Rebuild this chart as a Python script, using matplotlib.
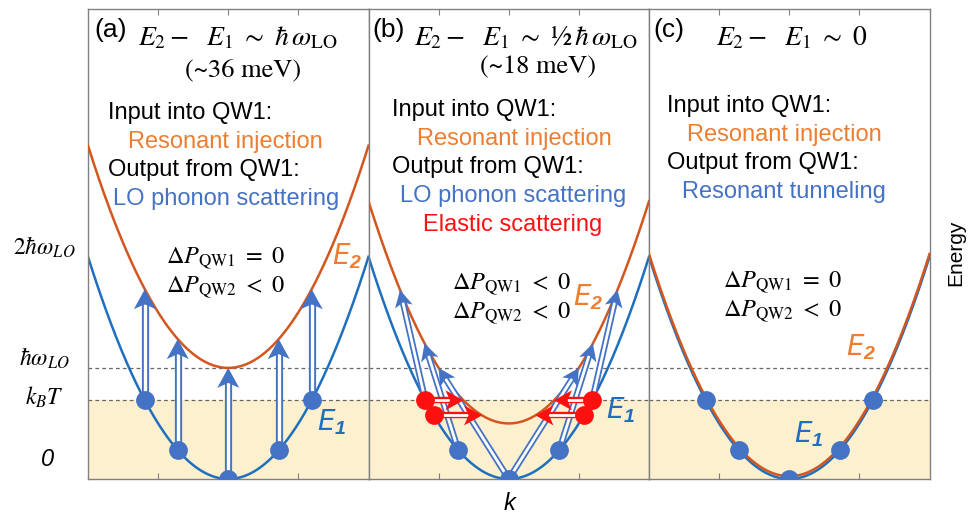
import numpy as np
import matplotlib
matplotlib.use('Agg')
import matplotlib.pyplot as plt

plt.rcParams['mathtext.fontset'] = 'stix'
plt.rcParams['mathtext.rm'] = 'Liberation Sans:bold:italic'
plt.rcParams['font.family'] = ['Liberation Sans', 'DejaVu Sans']

# energies in units of hbar*omega_LO, E1 = k^2/2
k_lim = (-2.0, 2.0)
e_top = 4.23
e_lo = 1.0
e_kt = 0.71
e2_min = [1.0, 0.5, 0.0]            # E2 band bottom in panels a, b, c
dot_k = [-1.19, -0.72, 0.0, 0.72, 1.19]
red_k = [-1.19, -1.07, 1.07, 1.19]  # elastic scattering, panel b
lo_src_k = [-1.19, -0.72, 0.0, 0.0, 0.72, 1.19]   # panel b, LO phonon arrows (on E1)
lo_dst_k = [-1.55, -1.20, -1.0, 1.0, 1.20, 1.55]  # panel b, arrow targets (on E2)

panel_tags = ['(a)', '(b)', '(c)']
titles = [r'$E_2 -\ \ E_1 \ \sim\ \hbar\,\omega_{\mathrm{LO}}$',
          r'$E_2 -\ \ E_1 \ \sim\ $½$\,\hbar\,\omega_{\mathrm{LO}}$',
          r'$E_2 -\ \ E_1 \ \sim\ 0$']
subtitles = ['(~36 meV)', '(~18 meV)', '']
outputs = [['LO phonon scattering'],
           ['LO phonon scattering', 'Elastic scattering'],
           ['Resonant tunneling']]
dp1 = [r'$\Delta P_{\mathrm{QW1}}\ =\ 0$', r'$\Delta P_{\mathrm{QW1}}\ <\ 0$', r'$\Delta P_{\mathrm{QW1}}\ =\ 0$']
dp2 = [r'$\Delta P_{\mathrm{QW2}}\ <\ 0$'] * 3
ytick_text = [r'$2\hbar\omega_{LO}$', r'$\hbar\omega_{LO}$', r'$k_BT$', '0']

BLUE_LINE = '#1f6fbf'
ORANGE_LINE = '#d4561f'
DOT = '#4472c4'
RED = '#ff1010'
TXT_OR = '#ed7d31'
TXT_BL = '#4472c4'
FILL = '#fcf0cf'

W, H = 968, 518
fig = plt.figure(figsize=(W / 100, H / 100), dpi=100)


def px(x, y):
    return x / W, 1 - y / H


def e1(k):
    return 0.5 * np.asarray(k) ** 2


def arrow(ax, x0, y0, x1, y1, color, hl=20, hw=11, lw_out=5.2, lw_in=2.4):
    # double-line shaft + notched filled head, built in pixel space
    p0 = ax.transData.transform((x0, y0))
    p1 = ax.transData.transform((x1, y1))
    u = (p1 - p0) / np.hypot(*(p1 - p0))
    n = np.array([-u[1], u[0]])
    inv = ax.transData.inverted()
    s_end = inv.transform(p1 - u * hl * 0.7)
    ax.plot([x0, s_end[0]], [y0, s_end[1]], color=color, lw=lw_out,
            solid_capstyle='butt', zorder=4)
    s_in = inv.transform(p1 - u * hl * 0.72)
    ax.plot([x0, s_in[0]], [y0, s_in[1]], color='white', lw=lw_in,
            solid_capstyle='butt', zorder=4)
    head = [p1, p1 - u * hl + n * hw, p1 - u * hl * 0.75, p1 - u * hl - n * hw]
    ax.fill(*inv.transform(head).T, color=color, lw=0, zorder=5)


k = np.linspace(*k_lim, 300)
axes = []
for i in range(3):
    x0 = 88 + i * 280.5
    ax = fig.add_axes([x0 / W, (H - 479) / H, 280.5 / W, 470 / H])
    axes.append(ax)
    ax.set_xlim(*k_lim)
    ax.set_ylim(0, e_top)
    ax.set_xticks([-1, 0, 1])
    ax.set_yticks([])
    ax.tick_params(axis='x', direction='in', top=True, length=4,
                   color='#808080', labelbottom=False)
    for sp in ax.spines.values():
        sp.set_color('#808080')
        sp.set_linewidth(1.0)
    ax.axhspan(0, e_kt, color=FILL, lw=0, zorder=0)
    for e in (e_lo, e_kt):
        ax.axhline(e, color='#666666', lw=0.9, ls=(0, (3, 2.5)), zorder=1)
    ax.plot(k, e1(k), color=BLUE_LINE, lw=1.8, zorder=2)
    off = 0.025 if i == 2 else 0.0
    ax.plot(k, e1(k) + e2_min[i] + off, color=ORANGE_LINE, lw=1.8, zorder=3)

# panel (a): vertical LO phonon arrows
ax = axes[0]
for kk in dot_k:
    arrow(ax, kk, e1(kk), kk, e1(kk) + e2_min[0], DOT)
ax.plot(dot_k, e1(dot_k), 'o', color=DOT, ms=12.5, zorder=6)

# panel (b): diagonal LO phonon arrows + elastic scattering
ax = axes[1]
for ks, kd in zip(lo_src_k, lo_dst_k):
    arrow(ax, ks, e1(ks), kd, e1(kd) + e2_min[1], DOT, hl=17, hw=9, lw_out=4.6, lw_in=2.0)
for kr in red_k:
    er = e1(kr)
    kt = np.sign(kr) * np.sqrt(2 * (er - e2_min[1]))
    arrow(ax, kr, er, kt, er, RED, hl=18, hw=10, lw_out=4.6, lw_in=2.0)
ax.plot(dot_k[1:4], e1(dot_k[1:4]), 'o', color=DOT, ms=12.5, zorder=6)
ax.plot(red_k, e1(red_k), 'o', color=RED, ms=12.5, zorder=7)

# panel (c): degenerate subbands
ax = axes[2]
ax.plot(dot_k, e1(dot_k), 'o', color=DOT, ms=12.5, zorder=6)

# text
tag_x = [94, 372, 653]
for i in range(3):
    fig.text(*px(tag_x[i], 30), panel_tags[i], fontsize=19, ha='left', va='center')
tx = [238, 526, 792]
for i in range(3):
    fig.text(*px(tx[i], 38), titles[i], fontsize=20, ha='center', va='center',
             math_fontfamily='stix', family='STIXGeneral')
sub = [(243, 70), (538, 67)]
for i in range(2):
    fig.text(*px(*sub[i]), subtitles[i], fontsize=19, ha='center', va='center',
             family='STIXGeneral')

blocks = [(108, 128, 113, [113]), (392, 417, 110, [400, 423]), (667, 687, 106, [682])]
for i, (xl, xr, y0, xo) in enumerate(blocks):
    step = 28.7
    fig.text(*px(xl, y0), 'Input into QW1:', fontsize=17, va='center')
    fig.text(*px(xr, y0 + step), 'Resonant injection', fontsize=17, va='center', color=TXT_OR)
    fig.text(*px(xl, y0 + 2 * step), 'Output from QW1:', fontsize=17, va='center')
    for j, t in enumerate(outputs[i]):
        c = TXT_BL if j == 0 else RED
        fig.text(*px(xo[j], y0 + (3 + j) * step), t, fontsize=17, va='center', color=c)

dpx = [(226, 258), (512, 284), (783, 282)]
for i, (x, y) in enumerate(dpx):
    fig.text(*px(x, y), dp1[i], fontsize=17.5, ha='center', va='center', math_fontfamily='stix')
    fig.text(*px(x, y + 29), dp2[i], fontsize=17.5, ha='center', va='center', math_fontfamily='stix')

e2_pos = [(347, 256), (588, 297), (861, 347)]
e1_pos = [(332, 422), (621, 410), (809, 434)]
for i in range(3):
    fig.text(*px(*e2_pos[i]), r'$E_2$', fontsize=20, ha='center', va='center',
             color=TXT_OR, math_fontfamily='custom')
    fig.text(*px(*e1_pos[i]), r'$E_1$', fontsize=20, ha='center', va='center',
             color=BLUE_LINE, math_fontfamily='custom')

ylab_y = [247, 358, 397, 460]
for t, y in zip(ytick_text, ylab_y):
    if t == '0':
        fig.text(*px(48, y), t, fontsize=17, ha='center', va='center', style='italic')
    else:
        fig.text(*px(44, y), t, fontsize=17, ha='center', va='center', math_fontfamily='stix')

fig.text(*px(510, 503), 'k', fontsize=17, ha='center', va='center', style='italic')
fig.text(*px(956, 253), 'Energy', fontsize=15, ha='center', va='center', rotation=90)

fig.savefig('out.png', dpi=100)
